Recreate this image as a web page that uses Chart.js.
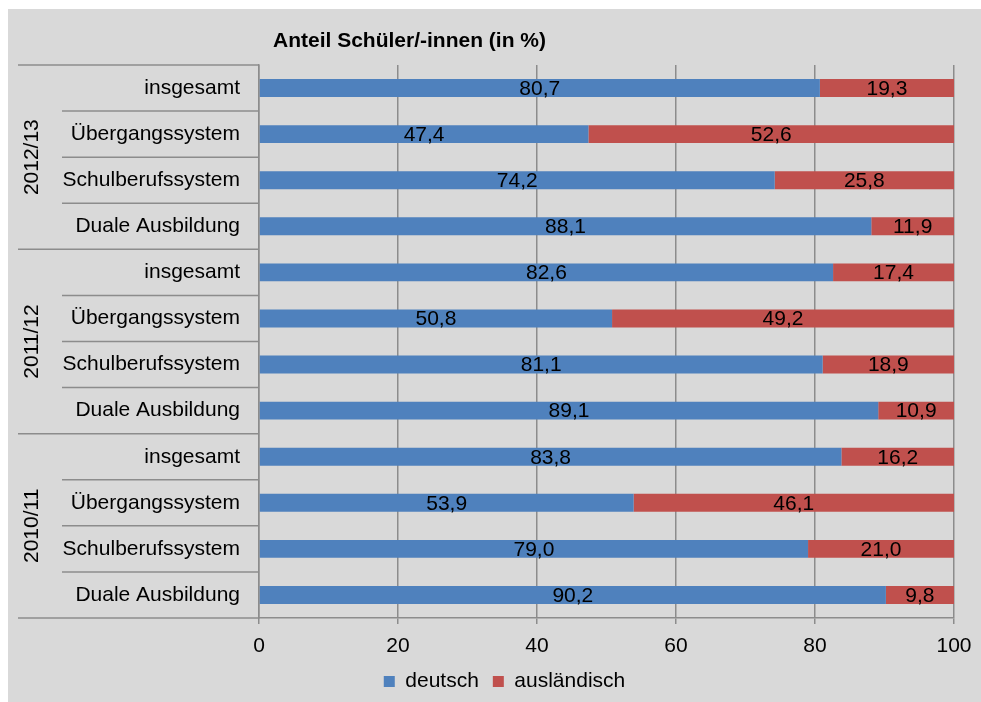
<!DOCTYPE html>
<html>
<head>
<meta charset="utf-8">
<script src="https://cdn.jsdelivr.net/npm/chart.js@4"></script>
<style>
  body { margin: 0; background: #fff; }
  #rahmen { position: absolute; left: 8px; top: 9px; width: 973px; height: 693px; background: #d9d9d9; }
</style>
</head>
<body>
<div id="rahmen"><canvas id="diagramm" width="973" height="693"></canvas></div>
<script>
// Daten (von oben nach unten)
const jahre = ['2012/13', '2011/12', '2010/11'];
const bereiche = ['insgesamt', 'Übergangssystem', 'Schulberufssystem', 'Duale Ausbildung'];
const deutsch = [80.7, 47.4, 74.2, 88.1, 82.6, 50.8, 81.1, 89.1, 83.8, 53.9, 79.0, 90.2];
const auslaendisch = [19.3, 52.6, 25.8, 11.9, 17.4, 49.2, 18.9, 10.9, 16.2, 46.1, 21.0, 9.8];
const xTicks = [0, 20, 40, 60, 80, 100];
const titel = 'Anteil Schüler/-innen (in %)';

const labels = jahre.flatMap(() => bereiche);
const linienFarbe = '#8c8c8c';
const schrift = "'Liberation Sans', Arial, sans-serif";

Chart.defaults.font.family = schrift;
Chart.defaults.font.size = 21;
Chart.defaults.color = '#000';

// Werte in die Balken schreiben
const wertePlugin = {
  id: 'werte',
  afterDatasetsDraw(chart) {
    const ctx = chart.ctx;
    ctx.save();
    ctx.font = '21px ' + schrift;
    ctx.fillStyle = '#000';
    ctx.textAlign = 'center';
    ctx.textBaseline = 'middle';
    chart.data.datasets.forEach((ds, i) => {
      chart.getDatasetMeta(i).data.forEach((bar, j) => {
        const { x, base, y } = bar.getProps(['x', 'base', 'y'], true);
        ctx.fillText(ds.data[j].toFixed(1).replace('.', ','), (x + base) / 2, y + 1);
      });
    });
    ctx.restore();
  }
};

// Trennlinien, Jahresbeschriftung und Titel
const gruppenPlugin = {
  id: 'gruppen',
  afterDraw(chart) {
    const { ctx, chartArea: a, scales: { y } } = chart;
    const n = bereiche.length;
    const halb = (y.getPixelForValue(1) - y.getPixelForValue(0)) / 2;
    ctx.save();
    ctx.strokeStyle = linienFarbe;
    ctx.lineWidth = 1.5;
    for (let i = 0; i <= labels.length; i++) {
      const py = i < labels.length ? y.getPixelForValue(i) - halb : y.getPixelForValue(i - 1) + halb;
      const x0 = i % n === 0 ? 10 : 54;
      ctx.beginPath();
      ctx.moveTo(x0, py);
      ctx.lineTo(a.left, py);
      ctx.stroke();
    }
    ctx.fillStyle = '#000';
    ctx.font = '21px ' + schrift;
    ctx.textAlign = 'center';
    ctx.textBaseline = 'middle';
    jahre.forEach((jahr, g) => {
      const mitte = (y.getPixelForValue(g * n) + y.getPixelForValue(g * n + n - 1)) / 2;
      ctx.save();
      ctx.translate(24, mitte);
      ctx.rotate(-Math.PI / 2);
      ctx.fillText(jahr, 0, 0);
      ctx.restore();
    });
    ctx.font = 'bold 21px ' + schrift;
    ctx.textAlign = 'left';
    ctx.textBaseline = 'alphabetic';
    ctx.fillText(titel, a.left + 14, a.top - 18);
    ctx.restore();
  }
};

new Chart(document.getElementById('diagramm'), {
  type: 'bar',
  data: {
    labels: labels,
    datasets: [
      { label: 'deutsch', data: deutsch, backgroundColor: '#4f81bd' },
      { label: 'ausländisch', data: auslaendisch, backgroundColor: '#c0504d' }
    ]
  },
  options: {
    indexAxis: 'y',
    responsive: false,
    animation: false,
    layout: { padding: { top: 56, left: 20, right: 0, bottom: 0 } },
    datasets: { bar: { barPercentage: 0.39, categoryPercentage: 1 } },
    scales: {
      x: {
        stacked: true,
        min: 0,
        max: 100,
        afterBuildTicks: (s) => { s.ticks = xTicks.map(v => ({ value: v })); },
        afterFit: (s) => { s.paddingRight = 27; s.height = 39; },
        grid: { color: linienFarbe, lineWidth: 1.5, tickLength: 6 },
        border: { color: linienFarbe, width: 1.5 },
        ticks: { padding: 10, color: '#000' }
      },
      y: {
        stacked: true,
        afterFit: (s) => { s.width = 231; },
        grid: { display: false },
        border: { color: linienFarbe, width: 1.5 },
        ticks: { padding: 11, color: '#000', autoSkip: false }
      }
    },
    plugins: {
      tooltip: { enabled: false },
      legend: {
        position: 'bottom',
        labels: { boxWidth: 11, boxHeight: 11, padding: 14, color: '#000' }
      }
    }
  },
  plugins: [wertePlugin, gruppenPlugin]
});
</script>
</body>
</html>
